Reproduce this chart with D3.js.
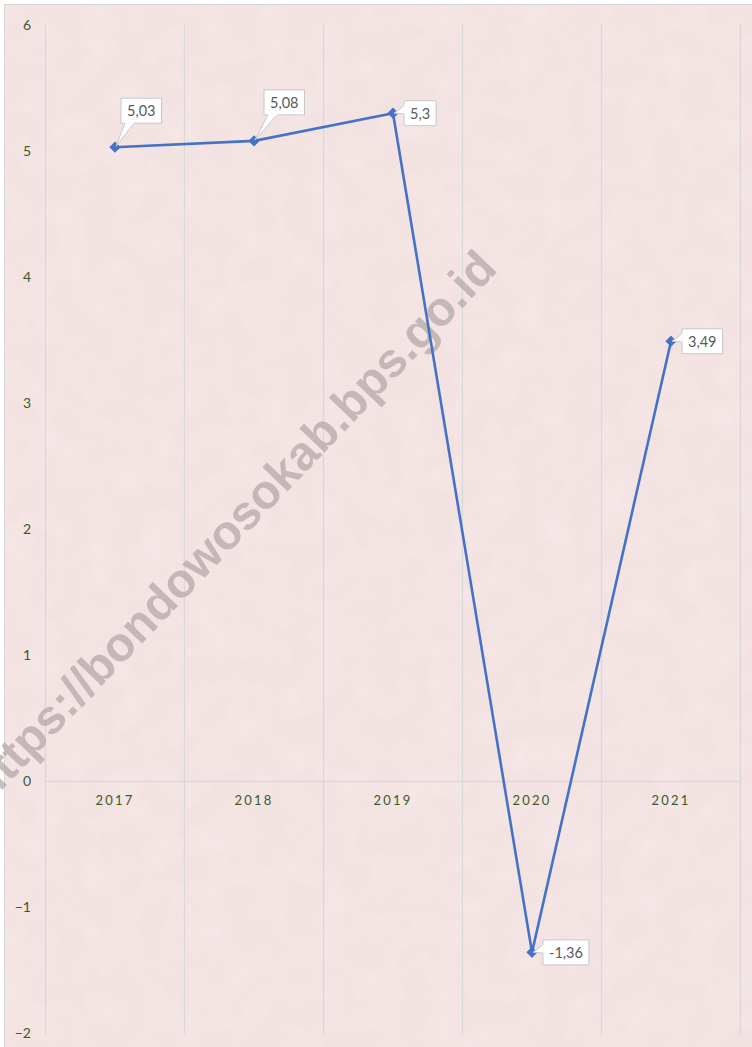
<!DOCTYPE html>
<html lang="id">
<head>
<meta charset="utf-8">
<title>Pertumbuhan Ekonomi</title>
<script src="https://d3js.org/d3.v7.min.js"></script>
<style>
* { margin: 0; padding: 0; }
body { background: #fff; }
svg { display: block; font-family: Lato, 'Open Sans', sans-serif; }
</style>
</head>
<body>
<script>
// data
const years = ["2017", "2018", "2019", "2020", "2021"];
const growth = [5.03, 5.08, 5.3, -1.36, 3.49];
const yTicks = [-2, -1, 0, 1, 2, 3, 4, 5, 6];
const watermark = "https://bondowosokab.bps.go.id";

const w = 752, h = 1047;
const lineColor = "#4472c4";
const tickColor = "#3d5a2a";
const gridColor = "#d9d9d9";

// decimal comma like the source
const idLocale = d3.formatLocale({decimal: ",", thousands: ".", grouping: [3], currency: ["Rp", ""], minus: "-"});
const fmt = idLocale.format("~g");

const x = d3.scaleBand().domain(years).range([45.5, 740.5]);
const y = d3.scaleLinear().domain([-2, 6]).range([1033, 25]);

const svg = d3.select("body").append("svg")
  .attr("width", w)
  .attr("height", h);

// paper-ish texture
const defs = svg.append("defs");
const f = defs.append("filter").attr("id", "grain")
  .attr("x", 0).attr("y", 0).attr("width", "100%").attr("height", "100%");
f.append("feTurbulence")
  .attr("type", "fractalNoise")
  .attr("baseFrequency", 0.035)
  .attr("numOctaves", 3)
  .attr("seed", 4);
f.append("feColorMatrix")
  .attr("type", "matrix")
  .attr("values", "0 0 0 0 1  0 0 0 0 0.97  0 0 0 0 0.97  1.2 0 0 0 -0.45");

svg.append("rect")
  .attr("x", 4.5).attr("y", 4.5)
  .attr("width", w).attr("height", h)
  .attr("fill", "#f3e2e2")
  .attr("stroke", "#d6d6d6");
svg.append("rect")
  .attr("x", 5).attr("y", 5)
  .attr("width", w).attr("height", h)
  .attr("filter", "url(#grain)")
  .attr("opacity", 0.35);

// vertical gridlines on band edges
const edges = years.map(d => x(d)).concat([x.range()[1]]);
svg.append("g")
  .selectAll("line")
  .data(edges)
  .join("line")
  .attr("x1", d => d).attr("x2", d => d)
  .attr("y1", y(6) - 1).attr("y2", y(-2) + 2)
  .attr("stroke", gridColor)
  .attr("stroke-width", 1.3);

// watermark
svg.append("text")
  .text(watermark)
  .attr("transform", "translate(499,270) rotate(-46.3)")
  .attr("text-anchor", "end")
  .attr("font-family", "'Liberation Sans', Arial, sans-serif")
  .attr("font-weight", "bold")
  .attr("font-size", 48)
  .attr("fill", "#b3a7a7")
  .attr("opacity", 0.72);

// category axis at zero
const xAxis = svg.append("g")
  .attr("transform", "translate(0," + y(0) + ")")
  .call(d3.axisBottom(x).tickSize(0).tickPadding(15));
xAxis.select(".domain").attr("stroke", gridColor).attr("stroke-width", 1.6);
xAxis.selectAll("text")
  .attr("font-size", 13)
  .attr("font-family", "Lato, sans-serif")
  .attr("letter-spacing", 2.2)
  .attr("fill", tickColor);

// value axis labels, no line
const yAxis = svg.append("g")
  .attr("transform", "translate(31,0)")
  .call(d3.axisLeft(y).tickValues(yTicks).tickSize(0).tickPadding(0).tickFormat(d3.format("d")));
yAxis.select(".domain").remove();
yAxis.selectAll("text")
  .attr("font-size", 14)
  .attr("font-family", "Lato, sans-serif")
  .attr("fill", tickColor);

const pts = years.map((d, i) => ({year: d, v: growth[i], px: x(d) + x.bandwidth() / 2, py: y(growth[i])}));

svg.append("path")
  .datum(pts)
  .attr("fill", "none")
  .attr("stroke", lineColor)
  .attr("stroke-width", 2.6)
  .attr("stroke-linejoin", "round")
  .attr("d", d3.line().x(d => d.px).y(d => d.py));

svg.append("g")
  .selectAll("path")
  .data(pts)
  .join("path")
  .attr("d", d3.symbol(d3.symbolSquare, 48))
  .attr("transform", d => "translate(" + d.px + "," + d.py + ") rotate(45)")
  .attr("fill", lineColor)
  .attr("stroke", lineColor);

// callout labels
const calloutAbove = i => i < 2; // first two sit above-right, rest to the right
const labels = svg.append("g");
pts.forEach((d, i) => {
  const g = labels.append("g");
  const t = g.append("text")
    .text(fmt(d.v))
    .attr("font-size", 14.5)
    .attr("font-family", "Lato, sans-serif")
    .attr("fill", "#595959");
  const tw = t.node().getComputedTextLength();
  const bw = tw + 12, bh = 25;
  let bx, by, ptr;
  if (calloutAbove(i)) {
    bx = d.px + 6 + (i * 4);
    by = d.py - 24 - bh - (i * 2);
    ptr = [[bx + 4, by + bh], [d.px + 1, d.py - 1], [bx + 13, by + bh]];
  } else {
    bx = d.px + 11;
    by = d.py - bh / 2;
    ptr = [[bx, by + 5], [d.px + 1, d.py], [bx, by + 13]];
  }
  g.append("path")
    .attr("d", "M" + bx + "," + by + "h" + bw + "v" + bh + "h" + (-bw) + "Z")
    .attr("fill", "#fff")
    .attr("stroke", "#c8c8c8");
  g.append("path")
    .attr("d", d3.line()(ptr))
    .attr("fill", "#fff")
    .attr("stroke", "#c8c8c8");
  // hide border under pointer base
  g.append("line")
    .attr("x1", ptr[0][0]).attr("y1", ptr[0][1])
    .attr("x2", ptr[2][0]).attr("y2", ptr[2][1])
    .attr("stroke", "#fff").attr("stroke-width", 1.5);
  t.attr("x", bx + 6).attr("y", by + 18).raise();
});
</script>
</body>
</html>
